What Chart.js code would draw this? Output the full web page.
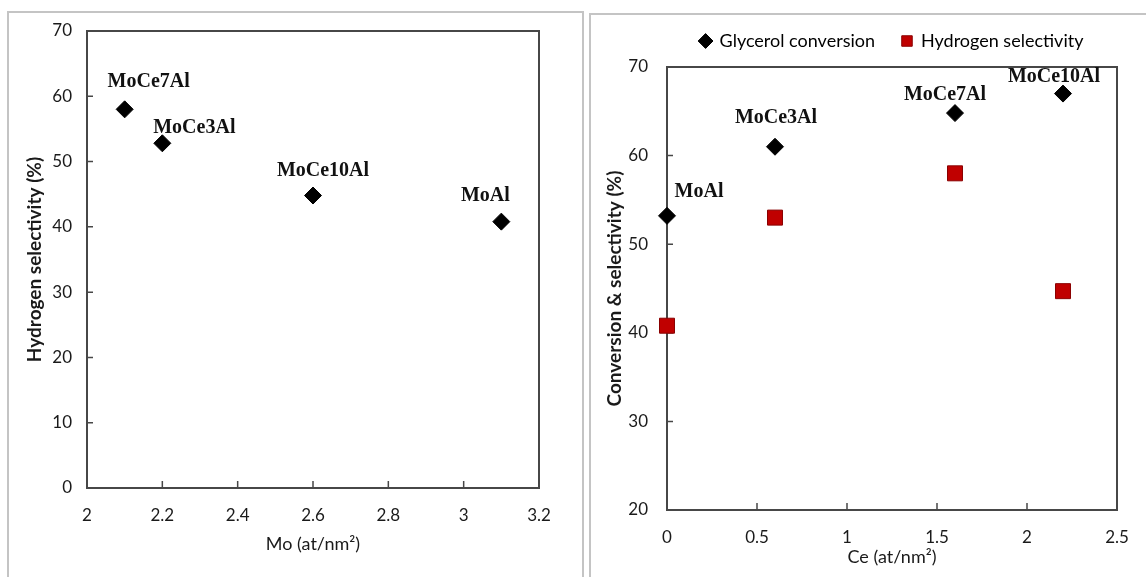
<!DOCTYPE html>
<html>
<head>
<meta charset="utf-8">
<title>Mo and Ce surface density vs. conversion and selectivity</title>
<script src="https://cdn.jsdelivr.net/npm/chart.js@4.4.1/dist/chart.umd.min.js"></script>
<style>
  html, body { margin: 0; padding: 0; background: #fff; }
  body { position: relative; width: 1146px; height: 577px; overflow: hidden; }
  .panel { position: absolute; border: 2px solid #c4c4c4; box-sizing: border-box; }
  #panelMo { left: 7px; top: 11px; width: 577px; height: 600px; }
  #panelCe { left: 589px; top: 13px; width: 600px; height: 600px; }
  canvas { position: absolute; top: 0; }
  #moChart { left: 0; }
  #ceChart { left: 585px; }
</style>
</head>
<body>
<div class="panel" id="panelMo"></div>
<div class="panel" id="panelCe"></div>
<canvas id="moChart" width="585" height="577"></canvas>
<canvas id="ceChart" width="561" height="577"></canvas>
<script>
// H2 selectivity against Mo surface density
const moDensity = [2.1, 2.2, 2.6, 3.1];
const moSelectivity = [58, 52.8, 44.8, 40.8];
const moSamples = ['MoCe7Al', 'MoCe3Al', 'MoCe10Al', 'MoAl'];
const moTicksX = [2, 2.2, 2.4, 2.6, 2.8, 3, 3.2];
const moTicksY = [0, 10, 20, 30, 40, 50, 60, 70];

// glycerol conversion and H2 selectivity against Ce surface density
const ceDensity = [0, 0.6, 1.6, 2.2];
const ceSamples = ['MoAl', 'MoCe3Al', 'MoCe7Al', 'MoCe10Al'];
const glycerolConversion = [53.2, 61, 64.8, 67];
const hydrogenSelectivity = [40.8, 53, 58, 44.7];
const ceTicksX = [0, 0.5, 1, 1.5, 2, 2.5];
const ceTicksY = [20, 30, 40, 50, 60, 70];

Chart.defaults.font.family = 'Lato';
const ink = '#1a1a1a';
const tickFont = { family: 'Lato', size: 17 };

function setTicks(values) {
    return scale => { scale.ticks = values.map(v => ({ value: v })); };
}

function points(xs, ys) {
    return xs.map((x, i) => ({ x, y: ys[i] }));
}

// plot box with short inward tick marks
const frame = {
    id: 'frame',
    beforeDatasetsDraw(chart) {
        const { ctx, chartArea: a, scales: { x, y } } = chart;
        ctx.save();
        ctx.strokeStyle = '#474747';
        ctx.lineWidth = 1.5;
        ctx.beginPath();
        x.ticks.forEach(t => {
            const px = x.getPixelForValue(t.value);
            ctx.moveTo(px, a.bottom);
            ctx.lineTo(px, a.bottom - 7);
        });
        y.ticks.forEach(t => {
            const py = y.getPixelForValue(t.value);
            ctx.moveTo(a.left, py);
            ctx.lineTo(a.left + 6, py);
        });
        ctx.stroke();
        ctx.lineWidth = 2;
        ctx.strokeRect(a.left, a.top, a.right - a.left, a.bottom - a.top);
        ctx.restore();
    }
};

// sample names next to the first dataset's points
function sampleNames(names, offsets) {
    return {
        id: 'sampleNames',
        afterDatasetsDraw(chart) {
            const { ctx } = chart;
            ctx.save();
            ctx.font = 'bold 20px "Liberation Serif"';
            ctx.fillStyle = '#111';
            ctx.textAlign = 'center';
            ctx.textBaseline = 'middle';
            chart.getDatasetMeta(0).data.forEach((p, i) => {
                ctx.fillText(names[i], p.x + offsets[i][0], p.y + offsets[i][1]);
            });
            ctx.restore();
        }
    };
}

function xAxis(min, max, ticks, height, title) {
    return {
        type: 'linear', min, max,
        afterBuildTicks: setTicks(ticks),
        afterFit: s => { s.height = height; },
        grid: { display: false, drawTicks: false },
        border: { display: false },
        ticks: { padding: 17, font: tickFont, color: ink, callback: v => String(v) },
        title: { display: true, text: title, padding: 0, color: ink, font: { family: 'Lato', size: 18 } }
    };
}

function yAxis(min, max, ticks, width, pad, title) {
    return {
        min, max,
        afterBuildTicks: setTicks(ticks),
        afterFit: s => { s.width = width; },
        grid: { display: false, drawTicks: false },
        border: { display: false },
        ticks: { padding: pad, font: tickFont, color: ink, callback: v => String(v) },
        title: { display: true, text: title, padding: 0, color: ink, font: { family: 'Lato', size: 19, weight: 'bold' } }
    };
}

new Chart(document.getElementById('moChart'), {
    type: 'scatter',
    data: {
        datasets: [{
            label: 'Hydrogen selectivity',
            data: points(moDensity, moSelectivity),
            pointStyle: 'rectRot',
            pointRadius: 8.5,
            pointHoverRadius: 8.5,
            backgroundColor: '#000',
            borderColor: '#000',
            borderWidth: 1,
            clip: false
        }]
    },
    options: {
        responsive: false,
        animation: false,
        events: [],
        layout: { padding: { left: 23, right: 46, top: 31, bottom: 22 } },
        plugins: { legend: { display: false }, tooltip: { enabled: false } },
        scales: {
            x: xAxis(2, 3.2, moTicksX, 67, 'Mo (at/nm²)'),
            y: yAxis(0, 70, moTicksY, 64, 15, 'Hydrogen selectivity (%)')
        }
    },
    plugins: [frame, sampleNames(moSamples, [[24, -28], [32, -15], [10, -25], [-16, -26]])]
});

new Chart(document.getElementById('ceChart'), {
    type: 'scatter',
    data: {
        datasets: [{
            label: 'Glycerol conversion',
            data: points(ceDensity, glycerolConversion),
            pointStyle: 'rectRot',
            pointRadius: 8.5,
            pointHoverRadius: 8.5,
            backgroundColor: '#000',
            borderColor: '#000',
            borderWidth: 1,
            clip: false
        }, {
            label: 'Hydrogen selectivity',
            data: points(ceDensity, hydrogenSelectivity),
            pointStyle: 'rect',
            pointRadius: 10.6,
            pointHoverRadius: 10.6,
            backgroundColor: '#c00000',
            borderColor: '#8a0000',
            borderWidth: 1,
            clip: false
        }]
    },
    options: {
        responsive: false,
        animation: false,
        events: [],
        layout: { padding: { left: 18, right: 29, top: 5, bottom: 9 } },
        plugins: {
            tooltip: { enabled: false },
            legend: {
                position: 'top',
                fullSize: false,
                labels: {
                    usePointStyle: true,
                    boxWidth: 10,
                    boxHeight: 10.5,
                    padding: 27,
                    color: '#000',
                    font: { family: 'Lato', size: 18 }
                }
            },
            // thin spacer between the legend and the plot box
            subtitle: {
                display: true,
                text: ' ',
                position: 'top',
                weight: 500,
                font: { size: 1, lineHeight: 1 },
                padding: { top: 0, bottom: 6 }
            }
        },
        scales: {
            x: xAxis(0, 2.5, ceTicksX, 58, 'Ce (at/nm²)'),
            y: yAxis(20, 70, ceTicksY, 64, 19, 'Conversion & selectivity (%)')
        }
    },
    plugins: [frame, sampleNames(ceSamples, [[32, -24], [1, -29], [-10, -18], [-9, -17]])]
});
</script>
</body>
</html>
